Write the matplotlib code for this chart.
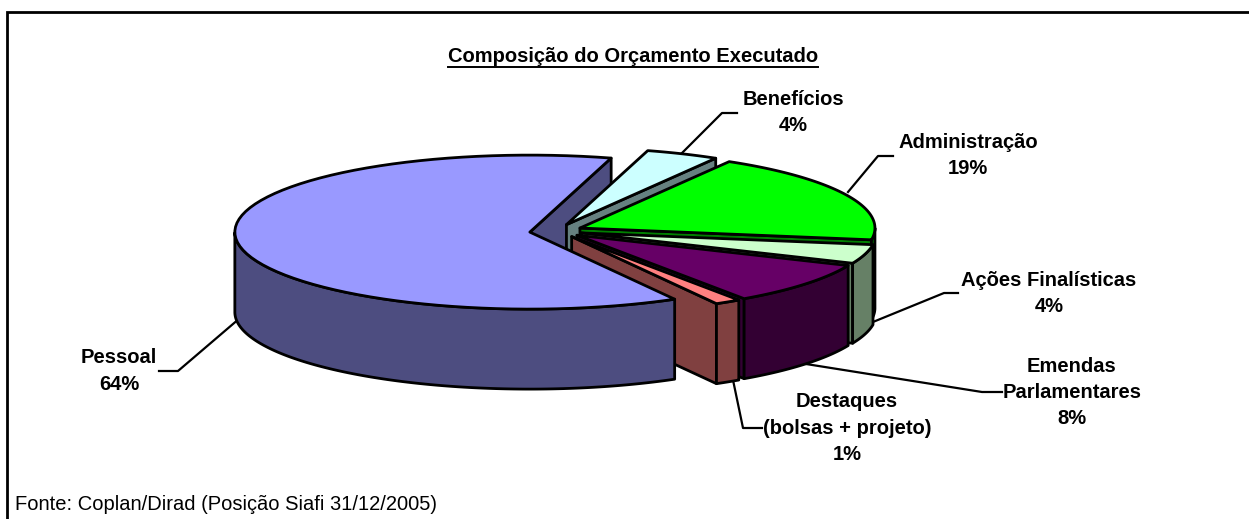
#!/usr/bin/env python3
"""Composição do Orçamento Executado: exploded 3D-look pie, drawn with polygons."""
import numpy as np
import matplotlib
matplotlib.use("Agg")
import matplotlib.pyplot as plt
from matplotlib.patches import Polygon

plt.rcParams["font.family"] = ["Liberation Sans", "DejaVu Sans"]

# clockwise, starting at Benefícios
categories = ["Benefícios", "Administração", "Ações Finalísticas",
              "Emendas Parlamentares", "Destaques (bolsas + projeto)", "Pessoal"]
values = [4, 19, 4, 8, 1, 64]
top_colors = ["#CCFFFF", "#00FF00", "#CCFFCC", "#660066", "#FF8080", "#9999FF"]
wall_colors = ["#668080", "#008000", "#668066", "#330033", "#804040", "#4D4D80"]

# pie geometry in pixels
CX, CY = 556, 231
RX, RY = 295, 77
DEPTH = 80
EXPLODE = 26.5
START = 74
KW = dict(edgecolor="black", linewidth=2, joinstyle="round")


def persp(a):
    # the front right of the pie looks wider in the original's perspective
    return a - 5 * np.exp(-((a + 55.6) / 6) ** 2)


def tip(a1, a2):
    mid = np.radians((a1 + a2) / 2)
    return CX + EXPLODE * np.cos(mid), CY - EXPLODE * RY / RX * np.sin(mid)


def rim(x0, y0, a1, a2, n=80):
    t = np.radians(persp(np.linspace(a1, a2, n)))
    return x0 + RX * np.cos(t), y0 - RY * np.sin(t)


def radial_face(ax, a1, a2, wall):
    # flat cut on the clockwise side of the slice
    x0, y0 = tip(a1, a2)
    xs, ys = rim(x0, y0, a1, a2)
    ax.add_patch(Polygon([(x0, y0), (xs[-1], ys[-1]), (xs[-1], ys[-1] + DEPTH),
                          (x0, y0 + DEPTH)], facecolor=wall, **KW))


def draw_slice(ax, a1, a2, top, wall):
    x0, y0 = tip(a1, a2)
    xs, ys = rim(x0, y0, a1, a2)

    # outer wall, lower half of the rim only
    wx, wy = rim(x0, y0, a1, a2, 400)
    vis = wy >= y0
    if vis.any():
        wx, wy = wx[vis], wy[vis]
        pts = np.r_[np.c_[wx, wy], np.c_[wx, wy + DEPTH][::-1]]
        ax.add_patch(Polygon(pts, facecolor=wall, **KW))

    pts = np.r_[[[x0, y0]], np.c_[xs, ys]]
    ax.add_patch(Polygon(pts, facecolor=top, **KW))


fig = plt.figure(figsize=(12.49, 5.19), dpi=100)
ax = fig.add_axes([0, 0, 1, 1])
ax.set_xlim(0, 1249)
ax.set_ylim(519, 0)
ax.axis("off")

# outer frame, only top and left fall inside the page
ax.plot([7, 7, 1255], [525, 12, 12], color="black", lw=2, solid_joinstyle="miter")

# leader lines
leaders = [
    [(682, 153), (722, 113), (737, 113)],
    [(848, 192), (878, 156), (893, 156)],
    [(846, 333), (944, 293), (958, 293)],
    [(806, 364), (982, 392), (1002, 392)],
    [(733, 380), (743, 428), (762, 428)],
    [(240, 318), (178, 371), (159, 371)],
]
for line in leaders:
    ax.plot(*zip(*line), color="black", lw=1.6, zorder=1)

# slice angles from the values
sweeps = np.array(values) / sum(values) * 360
ends = START - np.cumsum(sweeps)
starts = ends + sweeps

# Pessoal's cut sits behind the other slices, its top and wall in front of them
p = len(values) - 1
radial_face(ax, starts[p], ends[p], wall_colors[p])
for i in range(p):
    radial_face(ax, starts[i], ends[i], wall_colors[i])
    draw_slice(ax, starts[i], ends[i], top_colors[i], wall_colors[i])
draw_slice(ax, starts[p], ends[p], top_colors[p], wall_colors[p])

# text
LABEL = dict(fontsize=14.5, fontweight="bold", ha="center", va="center", linespacing=1.47)
ax.text(633, 57, "Composição do Orçamento Executado", **LABEL)
ax.plot([448, 818], [67, 67], color="black", lw=1.4)
ax.text(793, 112.5, "Benefícios\n4%", **LABEL)
ax.text(968, 155.5, "Administração\n19%", **LABEL)
ax.text(1049, 293.5, "Ações Finalísticas\n4%", **LABEL)
ax.text(1072, 392.5, "Emendas\nParlamentares\n8%", **LABEL)
ax.text(847, 428, "Destaques\n(bolsas + projeto)\n1%", **LABEL)
ax.text(119, 371, "Pessoal\n64%", **LABEL)
ax.text(15, 505, "Fonte: Coplan/Dirad (Posição Siafi 31/12/2005)", fontsize=14.5, ha="left", va="center")

fig.savefig("out.png", dpi=100)
